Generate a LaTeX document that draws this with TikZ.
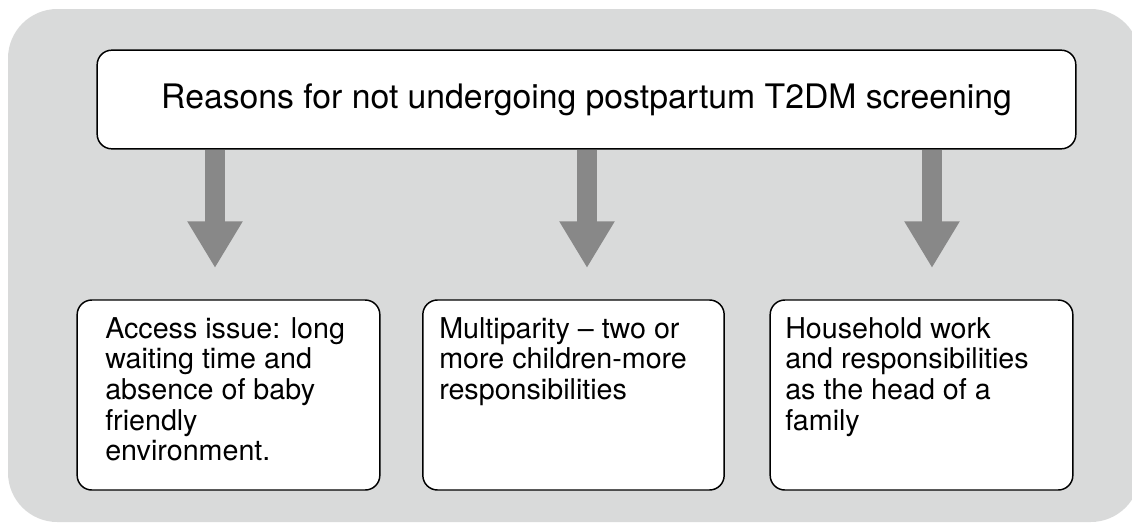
\documentclass[tikz,border=0pt]{standalone}
\usepackage{fontspec}
\setmainfont{TeX Gyre Heros}
\usetikzlibrary{arrows.meta}
\definecolor{bggray}{RGB}{217,218,218}
\definecolor{arrgray}{RGB}{136,136,136}
\tikzset{
  bgpanel/.style={fill=bggray, draw=none, rounded corners=37pt},
  whitebox/.style={draw=black, fill=white, line width=1.1pt, rounded corners=11pt, inner sep=0pt},
  bodytext/.style={align=left, inner sep=0pt, anchor=north west, font=\fontsize{21.5pt}{23pt}\selectfont},
  bigarrow/.style={draw=arrgray, line width=14.3pt, -{Triangle[length=35pt,width=39pt]}},
}
\begin{document}
\begin{tikzpicture}[x=0.75pt,y=-0.75pt]
\useasboundingbox (0,0) rectangle (1132,526);
\fill[bgpanel] (8,9) rectangle (1140,522);
% top box
\node[whitebox, minimum width=734pt, minimum height=74pt, font=\fontsize{25.3pt}{30pt}\selectfont] (top) at (586.5,99.5) {Reasons for not undergoing postpartum T2DM screening};
% arrow ends
\coordinate (e1) at (215,268);
\coordinate (e2) at (587,268);
\coordinate (e3) at (932,268);
\draw[bigarrow] (top.south -| e1) -- (e1);
\draw[bigarrow] (top.south -| e2) -- (e2);
\draw[bigarrow] (top.south -| e3) -- (e3);
% bottom boxes
\node[whitebox, minimum width=227pt, minimum height=142.5pt] (b1) at (228.5,395) {};
\node[whitebox, minimum width=226pt, minimum height=142.5pt] (b2) at (573.5,395) {};
\node[whitebox, minimum width=227pt, minimum height=142.5pt] (b3) at (921.5,395) {};
\node[bodytext] (t1) at (105,317) {Access issue: long\\waiting time and\\absence of baby\\friendly\\environment.};
\node[bodytext] (t2) at (439,317) {Multiparity -- two or\\more children-more\\responsibilities};
\node[bodytext] (t3) at (785,317) {Household work\\and responsibilities\\as the head of a\\family};
\end{tikzpicture}
\end{document}
